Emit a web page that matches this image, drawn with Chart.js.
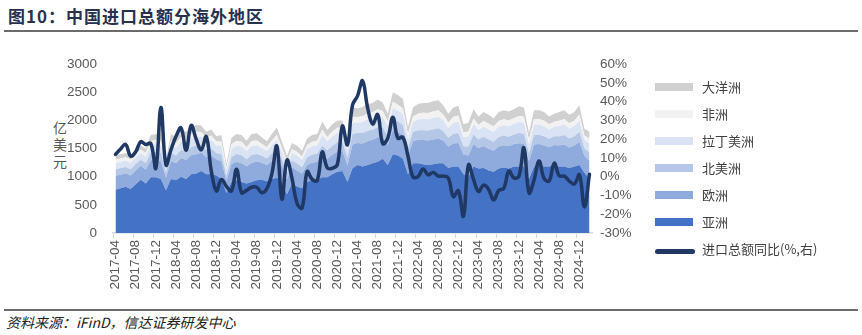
<!DOCTYPE html>
<html>
<head>
<meta charset="utf-8">
<script src="https://cdn.jsdelivr.net/npm/chart.js@4.4.1/dist/chart.umd.min.js"></script>
<style>
  body { margin: 0; width: 862px; height: 335px; background: #fff; position: relative; overflow: hidden; font-family: "Noto Sans CJK SC", sans-serif; }
  #title { position: absolute; left: 8px; top: 3px; font-size: 17px; font-weight: bold; color: #26324f; letter-spacing: 1px; }
  .rule { position: absolute; left: 4px; right: 4px; height: 2px; background: #6b6b6b; }
  #source { position: absolute; left: 6px; top: 312px; font-size: 14px; font-style: italic; color: #222; }
  #unit { position: absolute; left: 53px; top: 119px; width: 14px; font-size: 14px; line-height: 17px; color: #595959; text-align: center; }
  #wrap { position: absolute; left: 0; top: 40px; width: 862px; height: 265px; }
  #legend { position: absolute; left: 655px; top: 73px; font-size: 13px; color: #404040; }
  #legend .item { position: relative; height: 27px; line-height: 27px; padding-left: 47px; white-space: nowrap; }
  #legend .sw { position: absolute; left: 0; top: 10px; width: 38px; height: 8px; }
  #legend .ln { position: absolute; left: 0; top: 14px; width: 40px; height: 5px; border-radius: 3px; }
</style>
</head>
<body>
<div id="title">图10：中国进口总额分海外地区</div>
<div class="rule" style="top:30px"></div>
<div id="unit">亿<br>美<br>元</div>
<div id="wrap"><canvas id="chart"></canvas></div>
<div id="legend"></div>
<div class="rule" style="top:309px"></div>
<div id="source">资料来源：iFinD，信达证券研发中心</div>
<script>
// months 2017-04 .. 2025-02
var months = [];
for (var y = 2017, m = 4; ; m++) {
    if (m > 12) { m = 1; y++; }
    months.push(y + '-' + (m < 10 ? '0' + m : m));
    if (y === 2025 && m === 2) break;
}

// 亿美元
var asia = [770,795,823,780,867,945,880,990,990,960,
            760,960,935,1000,960,1045,1055,1100,1045,1050,
            1020,960,710,905,935,905,880,905,935,945,
            920,960,980,900,690,880,825,795,905,935,
            945,990,990,1045,1090,1100,905,1150,1210,1180,
            1210,1240,1265,1320,1210,1400,1375,1320,1045,1240,
            1240,1220,1210,1220,1240,1240,1155,1180,1180,1050,
            1000,1180,1145,1155,1110,1090,1145,1165,1145,1180,
            1180,1180,960,1180,1200,1180,1180,1210,1180,1180,
            1155,1180,1210,1070,960];
var europe = [245,240,238,242,245,248,250,300,310,315,
              220,320,305,330,335,335,345,325,300,320,
              290,315,215,320,330,335,305,340,335,305,
              290,320,355,290,270,290,285,260,305,315,
              320,385,330,345,355,355,295,420,390,410,
              420,415,430,390,355,430,420,415,330,390,
              415,430,435,440,440,405,380,410,420,345,
              375,400,360,390,385,370,390,395,395,400,
              415,410,320,390,380,375,345,355,375,390,
              365,375,410,300,320];
var northAmerica = [115,118,112,110,112,110,112,135,140,145,
                    95,140,135,145,150,145,155,140,130,130,
                    110,125,85,125,140,140,125,140,135,120,
                    115,130,150,115,115,120,125,115,135,140,
                    145,180,150,160,165,160,135,190,175,185,
                    185,180,185,170,155,190,185,180,140,165,
                    170,175,175,180,180,165,155,170,175,145,
                    160,170,155,165,165,160,170,170,170,170,
                    180,175,140,170,165,165,150,155,165,170,
                    160,165,180,135,150];
var latinAmerica = [110,112,112,115,116,115,115,135,140,140,
                    100,145,140,150,150,150,155,150,140,150,
                    135,145,95,145,150,155,140,160,155,140,
                    130,150,165,130,125,130,135,125,145,150,
                    150,180,155,165,170,165,135,200,185,195,
                    200,200,205,185,170,200,195,195,155,180,
                    190,200,200,205,205,190,175,195,200,160,
                    175,185,170,180,180,175,185,185,185,185,
                    195,190,150,180,180,175,165,165,180,185,
                    175,180,195,145,160];
var africa = [61,60,60,58,62,62,63,75,75,80,
              55,80,75,80,85,85,90,80,75,80,
              70,80,50,80,85,85,75,90,85,75,
              70,80,95,75,65,70,70,65,75,80,
              80,100,80,85,90,90,70,105,100,105,
              110,110,115,100,90,110,105,105,80,95,
              105,110,110,115,115,105,95,105,110,85,
              95,100,90,100,100,95,100,105,105,105,
              110,110,80,100,100,100,90,90,95,100,
              95,95,110,80,85];
var oceania = [75,75,75,75,78,80,80,105,105,110,
               70,115,110,115,120,120,120,115,110,110,
               95,115,75,115,120,120,115,125,125,115,
               105,120,135,110,105,110,110,100,115,120,
               120,145,125,130,130,130,110,165,150,165,
               165,165,170,155,140,170,170,165,130,160,
               170,175,180,180,180,165,160,170,175,145,
               155,165,150,160,160,150,160,160,160,160,
               170,165,130,160,155,155,140,145,155,155,
               150,155,165,120,125];
// 进口总额同比 %
var yoy = [11.9,14.8,17.2,11.0,13.3,18.7,17.2,17.7,4.5,36.9,
           6.3,14.4,21.5,26.0,14.1,27.3,20.0,14.3,21.4,3.0,
           -7.6,-1.5,-5.2,-7.6,4.0,-8.5,-7.3,-5.6,-5.6,-8.5,
           -6.4,1.5,16.3,-12.0,8.8,-0.9,-14.2,-16.7,2.7,-1.4,
           -2.1,13.2,4.7,4.5,6.5,27.0,17.0,38.1,43.1,51.1,
           36.7,28.1,33.1,17.6,20.6,31.7,20.5,21.0,11.0,-0.1,
           0.0,4.1,1.0,2.3,0.3,0.3,-0.7,-10.6,-7.5,-21.0,
           6.3,-1.4,-7.9,-4.5,-6.8,-12.4,-7.3,-6.2,3.0,-0.6,
           0.2,15.4,-8.6,-1.9,8.4,-1.0,-2.3,7.2,0.5,0.3,
           -2.3,-3.9,1.0,-16.1,1.3];

var tickFont = { family: '"Liberation Sans", Arial, sans-serif', size: 13.5 };

function area(label, data, color, fill) {
    return { type: 'line', label: label, data: data, backgroundColor: color, borderColor: color,
             borderWidth: 0, pointRadius: 0, fill: fill, yAxisID: 'y', tension: 0 };
}

var ctx = document.getElementById('chart').getContext('2d');
var chart = new Chart(ctx, {
    type: 'line',
    data: {
        labels: months,
        datasets: [
            area('亚洲', asia, '#4472c4', 'origin'),
            area('欧洲', europe, '#8faadc', '-1'),
            area('北美洲', northAmerica, '#b4c7e7', '-1'),
            area('拉丁美洲', latinAmerica, '#dae3f3', '-1'),
            area('非洲', africa, '#f2f2f2', '-1'),
            area('大洋洲', oceania, '#d0d0d0', '-1'),
            {
                type: 'line', label: '进口总额同比(%,右)', data: yoy, yAxisID: 'y1', order: -1,
                borderColor: '#1f3864', backgroundColor: '#1f3864', borderWidth: 3.5,
                pointRadius: 0, fill: false, tension: 0.4, borderCapStyle: 'round', borderJoinStyle: 'round'
            }
        ]
    },
    options: {
        responsive: true,
        maintainAspectRatio: false,
        animation: false,
        layout: { padding: { top: 12, right: 210, left: 0, bottom: 0 } },
        plugins: {
            tooltip: { enabled: false },
            legend: { display: false },
            filler: { drawTime: 'beforeDatasetsDraw' }
        },
        scales: {
            x: {
                offset: true,
                grid: {
                    drawOnChartArea: false, offset: true, tickLength: 5,
                    color: function(c) { return c.index % 4 === 0 ? '#d9d9d9' : 'rgba(0,0,0,0)'; }
                },
                border: { color: '#d9d9d9', width: 1.5 },
                ticks: {
                    autoSkip: false, minRotation: 90, maxRotation: 90, padding: 2,
                    color: '#595959', font: tickFont,
                    callback: function(v, i) { return i % 4 === 0 ? months[i] : ''; }
                },
                afterFit: function(s) { s.height = 72; }
            },
            y: {
                stacked: true, min: 0, max: 3000,
                grid: { display: false, drawTicks: false },
                border: { display: false },
                ticks: { stepSize: 500, padding: 16, autoSkip: false, color: '#595959', font: tickFont,
                         callback: function(v) { return String(v); } },
                afterFit: function(s) { s.width = 113; }
            },
            y1: {
                position: 'right', min: -30, max: 60,
                grid: { display: false, drawTicks: false },
                border: { display: false },
                ticks: { stepSize: 10, padding: 8, autoSkip: false, color: '#595959', font: tickFont,
                         callback: function(v) { return v + '%'; } },
                afterFit: function(s) { s.width = 60; }
            }
        }
    }
});

// legend: areas top-down, then the line
var legendOrder = [5, 4, 3, 2, 1, 0, 6];
var legendEl = document.getElementById('legend');
legendOrder.forEach(function(i) {
    var ds = chart.data.datasets[i];
    var item = document.createElement('div');
    item.className = 'item';
    var sw = document.createElement('span');
    sw.className = ds.yAxisID === 'y1' ? 'ln' : 'sw';
    sw.style.background = ds.backgroundColor;
    item.appendChild(sw);
    item.appendChild(document.createTextNode(ds.label));
    legendEl.appendChild(item);
});
</script>
</body>
</html>
